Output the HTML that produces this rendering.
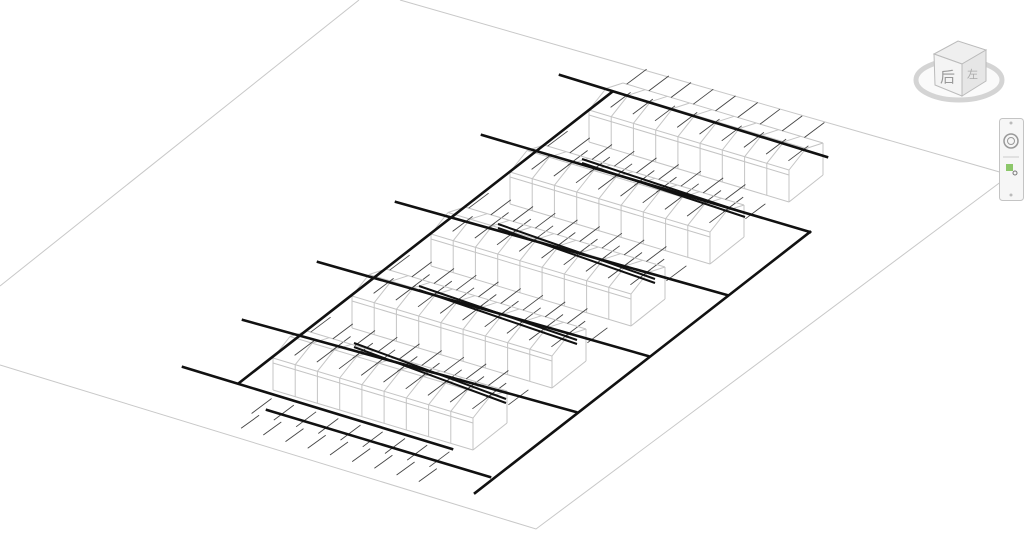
<!DOCTYPE html>
<html><head><meta charset="utf-8"><style>
html,body{margin:0;padding:0;background:#fff;width:1024px;height:554px;overflow:hidden}
svg{display:block}
</style></head><body>
<svg id="s" width="1024" height="554" viewBox="0 0 1024 554" xmlns="http://www.w3.org/2000/svg">
<g stroke="#c8c8c8" stroke-width="1" fill="none">
<polyline points="359,0 0,286"/>
<polyline points="400,0 1010,175 536,529 0,365"/>
</g>
<g id="blocks"></g>
<g id="thick" stroke="#111" stroke-width="2.6" fill="none" stroke-linecap="square">
<line x1="239" y1="383" x2="612" y2="92"/>
<line x1="810" y1="232" x2="475" y2="493"/>
<line x1="560" y1="75" x2="827" y2="157"/>
<line x1="482" y1="135" x2="810" y2="232"/>
<line x1="396" y1="202" x2="727" y2="295"/>
<line x1="318" y1="262" x2="648" y2="356"/>
<line x1="243" y1="320" x2="576" y2="412"/>
<line x1="183" y1="367" x2="452" y2="449"/>
<line x1="267" y1="410" x2="490" y2="477"/>
</g>
<g stroke="#111" stroke-width="2" fill="none">
<line x1="582" y1="159" x2="745" y2="213"/><line x1="582" y1="163" x2="745" y2="217"/>
<line x1="498" y1="224" x2="655" y2="279"/><line x1="498" y1="228" x2="655" y2="283"/>
<line x1="419" y1="286" x2="577" y2="340"/><line x1="419" y1="290" x2="577" y2="344"/>
<line x1="354" y1="343" x2="506" y2="399"/><line x1="354" y1="347" x2="506" y2="403"/>
</g>
<g transform="translate(912,36)">
<ellipse cx="47" cy="44" rx="43" ry="20" fill="#fafafa" stroke="#d4d4d4" stroke-width="5"/>
<polygon points="22,18 46,5 74,14 50,28" fill="#efefef" stroke="#bbb"/>
<polygon points="22,18 50,28 50,60 23,49" fill="#f4f4f4" stroke="#bbb"/>
<polygon points="50,28 74,14 74,45 50,60" fill="#e6e6e6" stroke="#bbb"/>
<text x="28" y="46" font-family="Liberation Sans, Noto Sans CJK SC, sans-serif" font-size="15" fill="#999">后</text>
<text x="55" y="42" font-family="Liberation Sans, Noto Sans CJK SC, sans-serif" font-size="11" fill="#aaa">左</text>
</g>
<g transform="translate(999,118)">
<rect x="0.5" y="0.5" width="24" height="82" rx="3" fill="#f6f6f6" stroke="#c4c4c4"/>
<circle cx="12" cy="23" r="7" fill="none" stroke="#999" stroke-width="1.5"/>
<circle cx="12" cy="23" r="3.5" fill="none" stroke="#999"/>
<line x1="4" y1="39" x2="20" y2="39" stroke="#ccc"/>
<rect x="7" y="46" width="7" height="7" fill="#8cc76a"/>
<circle cx="16" cy="55" r="2" fill="none" stroke="#777"/>
<circle cx="12" cy="5" r="1.5" fill="#bbb"/><circle cx="12" cy="77" r="1.5" fill="#bbb"/>
</g>
</svg>
<script>
(function(){
var g=document.getElementById('blocks'),out=[];
function L(a,b,c,d,col,w){out.push('<line x1="'+a.toFixed(1)+'" y1="'+b.toFixed(1)+'" x2="'+c.toFixed(1)+'" y2="'+d.toFixed(1)+'" stroke="'+col+'" stroke-width="'+(w||1)+'"/>');}
var N=9,w=[200,60],dp=[34,-27],h=32,lg='#c4c4c4',dk='#444';
for(var k=0;k<5;k++){
 var fx=273+79*(4-k), fy=358-62*(4-k);
 function P(t,s,z){return [fx+w[0]*t+dp[0]*s, fy+w[1]*t+dp[1]*s - z];}
 var a,b;
 a=P(0,0,0);b=P(1,0,0);L(a[0],a[1],b[0],b[1],lg);
 a=P(0,0,-h);b=P(1,0,-h);L(a[0],a[1],b[0],b[1],lg);
 a=P(0,0,-5);b=P(1,0,-5);L(a[0],a[1],b[0],b[1],lg);
 a=P(0,1,0);b=P(1,1,0);L(a[0],a[1],b[0],b[1],lg);
 a=P(0,0.5,8);b=P(1,0.5,8);L(a[0],a[1],b[0],b[1],lg);
 a=P(1,1,0);b=P(1,1,-h);L(a[0],a[1],b[0],b[1],lg);
 a=P(1,1,-h);b=P(1,0,-h);L(a[0],a[1],b[0],b[1],lg);
 for(var i=0;i<=N;i++){
  var t=i/N;
  a=P(t,0,0);b=P(t,0,-h);L(a[0],a[1],b[0],b[1],lg);
  a=P(t,0,0);b=P(t,0.5,8);L(a[0],a[1],b[0],b[1],lg);
  b=P(t,1,0);a=P(t,0.5,8);L(a[0],a[1],b[0],b[1],lg);
 }
 for(var i=0;i<N;i++){
  var t=(i+0.45)/N;
  a=P(t,1.4,6);L(a[0],a[1],a[0]-20,a[1]+15,dk,0.9);
  a=P(t+0.35/N,0.7,4);L(a[0],a[1],a[0]-20,a[1]+15,dk,0.9);
  a=P(t+0.1/N,-0.4,-h+6);L(a[0],a[1],a[0]-20,a[1]+15,dk,0.9);
  if(k==4){a=P(t+0.3/N,-0.9,-h+4);L(a[0],a[1],a[0]-18,a[1]+13,dk,0.9);}
 }
}
g.innerHTML=out.join('');
})();
</script>
</body></html>
